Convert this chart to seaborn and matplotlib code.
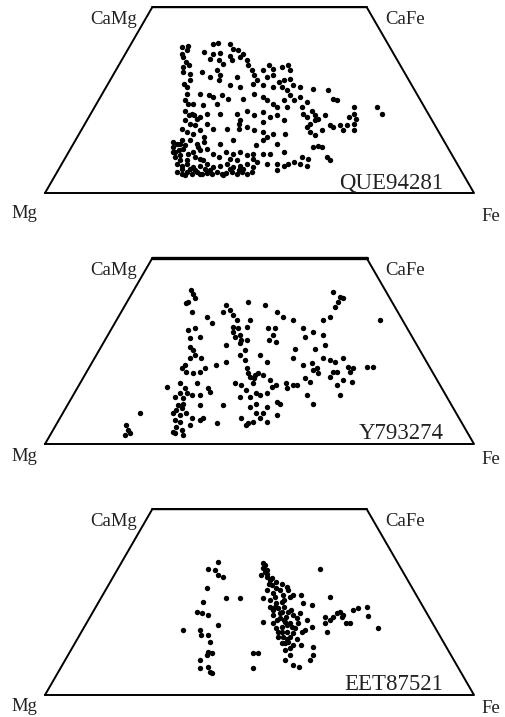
"""Pyroxene quadrilaterals (En-Fs-Di-Hd) for three meteorites."""
import numpy as np
import pandas as pd
import matplotlib
matplotlib.use("Agg")
import matplotlib.pyplot as plt
import seaborn as sns

# corner compositions of the quadrilateral (Fs %, Wo %)
corner_names = ["Mg", "Fe", "CaFe", "CaMg"]
corner_fs = [0, 100, 50, 0]
corner_wo = [0, 0, 50, 50]

samples = ["QUE94281", "Y793274", "EET87521"]

# QUE94281 analyses, Wo % and Fs %
que_wo = [39.3, 39.7, 38.4, 40.2, 40.4, 40.2, 38.8, 38.4, 37.5, 37.5, 37.7, 37.9,
          36.6, 35.3, 34.4, 36.1, 35.7, 37.0, 35.7, 36.6, 35.7, 34.4, 33.0, 34.4,
          33.5, 33.9, 34.4, 33.0, 33.0, 34.8, 32.6, 33.0, 31.7, 32.6, 32.1, 33.9,
          31.2, 30.3, 31.2, 31.7, 30.3, 31.2, 31.7, 29.9, 30.3, 30.8, 29.0, 28.5,
          28.1, 27.6, 25.4, 24.9, 29.4, 29.0, 28.5, 28.5, 27.6, 30.3, 28.5, 28.5, 29.0,
          26.7, 26.3, 25.8, 26.3, 25.4, 25.4, 26.7, 25.8, 24.9, 24.0, 24.9, 26.3,
          24.9, 25.8, 24.5, 23.1, 23.1, 23.1, 24.9, 24.0, 23.6, 24.0, 23.1, 23.1,
          21.3, 21.3, 20.5,
          22.2, 20.9, 21.3, 20.0, 19.6, 18.7, 18.2, 20.5, 21.3, 21.3, 21.3, 22.2,
          20.9, 21.8, 20.5, 20.9, 19.6, 21.3, 20.5, 22.2, 20.9, 20.0, 18.7, 19.6,
          20.9, 18.2, 18.2, 18.7, 20.0, 18.2, 19.6, 18.7, 19.1, 18.7,
          17.3, 16.4, 16.0, 16.9, 15.1, 17.3, 17.3, 17.3, 17.8, 16.9, 16.4, 15.1,
          16.0, 16.0, 17.8, 16.4, 15.5, 16.9, 17.8, 16.9, 16.9, 14.2, 13.3, 13.7,
          13.3, 14.2, 13.7, 14.2, 12.8, 14.2, 13.3, 12.4, 12.6, 12.4,
          12.4, 11.5, 11.9, 10.6, 11.0, 11.5, 11.9, 10.6, 13.3, 11.0, 10.6, 11.0,
          10.1, 10.6, 10.6, 10.6, 11.0, 9.7, 9.2, 9.7, 8.8, 9.7, 10.1, 8.8, 9.2,
          9.7, 9.2, 8.8, 9.2,
          7.9, 7.4, 7.9, 7.0, 7.4, 7.9, 7.0, 7.4, 7.9, 7.0, 7.4, 7.9, 7.0,
          5.7, 5.2, 5.7, 5.2, 5.7, 5.0, 5.4, 5.2, 5.7, 5.2, 5.4, 5.7, 5.2, 5.7,
          5.2, 5.7, 7.9, 7.4, 7.9, 8.3, 7.9, 7.4, 6.1, 6.5, 6.5, 6.5, 6.5, 6.5,
          7.9, 8.3,
          11.0, 12.8, 9.7, 8.8, 13.3, 5.2, 20.9, 24.0, 29.4, 26.7, 37.5,
          4.8, 6.1, 6.1, 4.8, 6.3, 8.8, 11.0, 12.4]
que_fs = [12.4, 13.5, 13.8, 19.1, 20.2, 23.0, 24.5, 25.9, 27.3, 20.5, 22.0, 18.0,
          13.8, 15.3, 16.4, 20.5, 22.6, 24.6, 25.7, 27.2, 29.2, 30.2, 34.4, 34.9,
          36.5, 38.3, 39.5, 40.6, 31.7, 24.2, 20.2, 23.5, 25.0, 15.8, 17.8, 15.3,
          22.9, 25.3, 29.1, 32.8, 34.2, 36.1, 37.4, 39.5, 40.5, 41.7, 43.4, 45.2,
          48.5, 52.2, 54.5, 55.6, 33.9, 36.4, 39.0, 41.0, 42.5, 18.7, 18.8, 31.3, 28.6,
          22.8, 25.0, 26.3, 28.1, 30.0, 33.5, 35.3, 38.0, 39.3, 41.2, 43.2, 44.0,
          45.5, 46.5, 48.8, 48.3, 44.8, 42.5, 20.2, 22.6, 25.1, 28.0, 60.4, 65.8,
          67.9, 61.3, 60.5,
          21.5, 23.0, 23.6, 25.4, 22.8, 24.5, 25.9, 25.9, 27.1, 30.2, 34.1, 35.9,
          38.2, 40.0, 42.2, 43.6, 45.8, 49.6, 50.8, 51.1, 52.5, 53.7, 52.5, 53.1,
          54.9, 59.7, 61.2, 62.6, 62.6, 57.3, 35.7, 35.8, 41.3, 28.4,
          23.3, 24.8, 26.6, 27.7, 29.4, 30.6, 33.7, 36.5, 38.1, 40.2, 42.7, 44.2,
          45.2, 47.9, 52.1, 53.6, 55.2, 56.1, 58.3, 61.1, 63.5, 26.7, 28.8, 23.1,
          24.1, 24.8, 30.1, 36.8, 42.9, 43.8, 47.4, 56.3, 57.4, 58.3,
          23.7, 25.4, 26.3, 28.1, 29.1, 30.4, 31.8, 33.9, 34.2, 36.8, 38.6, 40.0,
          42.0, 43.3, 45.6, 47.1, 50.1, 55.0, 56.8, 60.9, 62.0, 25.5, 26.5, 28.6,
          31.5, 35.6, 38.5, 40.3, 44.0,
          26.8, 28.2, 29.1, 31.1, 32.4, 33.8, 35.7, 37.1, 38.4, 40.4, 41.8, 43.1, 45.1,
          27.9, 29.3, 30.2, 31.6, 32.6, 34.0, 35.0, 36.3, 37.2, 38.6, 39.6, 40.7,
          42.1, 43.0, 44.4, 45.4, 50.1, 51.9, 52.8, 53.8, 55.5, 57.3, 51.0, 28.7,
          30.6, 34.1, 39.9, 43.0, 47.8, 45.2,
          24.8, 26.2, 30.2, 32.5, 24.8, 33.5, 24.2, 21.4, 17.7, 19.7, 13.2,
          30.2, 32.0, 35.5, 39.2, 42.0, 27.1, 24.4, 29.5]

# Y793274 analyses
y79_wo = [41.4, 40.5, 38.3, 39.2, 37.9, 35.6, 34.3, 32.5, 37.4, 36.1, 34.7, 35.6,
          38.3, 37.4, 35.6, 34.3, 33.4, 33.4, 34.3, 41.0, 39.6, 39.2, 38.3, 37.0, 33.4,
          30.7, 31.1, 28.9, 31.6, 31.1, 31.6, 33.4, 29.3, 28.9, 31.1, 31.1, 29.3,
          31.1, 30.2, 28.9, 29.3, 28.4,
          26.2, 25.3, 26.6, 27.1, 25.3, 28.0, 28.0, 27.5, 25.7, 25.7, 26.6, 23.1,
          23.9, 23.1, 21.3, 22.2, 23.9, 23.9, 22.2, 23.1, 21.3, 21.7, 20.4, 23.1,
          22.6, 22.2, 23.1, 20.8, 20.4, 20.8, 20.8, 19.5, 19.5,
          21.3, 20.4, 19.5, 19.0, 19.5, 20.4, 20.4, 18.1, 18.6, 19.0, 18.6, 17.2,
          16.3, 15.9, 16.3, 15.4, 15.9, 16.3, 15.9, 15.9, 17.7, 16.8, 18.1, 19.5,
          17.2, 16.8, 15.9, 19.9, 19.0, 15.4, 16.3, 15.0, 16.3, 15.0, 14.5, 13.6,
          12.7, 13.6, 12.3, 13.6, 13.2, 13.2, 14.1, 12.7, 12.7, 13.2, 13.6, 10.9,
          15.0, 13.2, 10.9, 13.2, 10.5, 10.9, 10.5, 10.5, 10.0, 10.9, 10.0, 11.4,
          9.1, 9.6, 8.3, 7.8, 8.3, 6.9, 6.5, 5.6, 6.9, 5.6, 6.0, 6.9, 6.0, 7.8,
          6.5, 6.0, 4.7, 3.8, 2.9, 2.4, 3.3, 5.1, 6.9, 5.1, 8.3, 8.3,
          8.4, 5.1, 3.8, 2.4, 2.9,
          33.4, 28.0, 30.2, 22.6, 19.0, 17.7]
y79_fs = [13.3, 14.3, 14.2, 15.4, 14.0, 16.4, 20.5, 22.6, 23.6, 25.0, 26.5, 23.8,
          28.2, 32.6, 36.2, 38.4, 41.2, 48.2, 49.2, 46.7, 49.0, 49.9, 49.2, 49.1, 61.4,
          18.0, 19.4, 21.6, 28.1, 29.5, 31.2, 31.1, 30.8, 29.8, 36.5, 38.0, 38.5,
          44.6, 47.4, 46.1, 50.2, 19.6,
          20.7, 21.9, 29.0, 31.9, 33.9, 33.0, 38.1, 40.2, 45.4, 50.0, 52.0, 22.2,
          23.0, 24.9, 29.3, 31.2, 33.5, 38.1, 40.6, 46.3, 49.5, 51.3, 53.1, 53.3,
          55.1, 56.5, 57.9, 60.3, 61.7, 64.6, 66.1, 58.2, 61.3,
          21.9, 21.7, 23.2, 25.1, 26.3, 27.1, 36.8, 38.7, 39.7, 40.2, 41.6, 43.8,
          40.4, 37.8, 36.1, 45.1, 46.0, 48.1, 49.9, 50.7, 51.7, 53.4, 57.3, 57.4,
          60.9, 63.1, 60.0, 52.5, 54.2, 20.7, 23.3, 25.1, 27.2, 30.6, 39.7, 42.5,
          23.9, 24.7, 26.0, 26.2, 27.6, 29.5, 31.4, 39.1, 41.4, 43.5, 44.9, 49.3,
          48.8, 54.4, 57.0, 62.2, 25.8, 26.7, 30.8, 36.3, 42.8, 43.8, 46.7, 48.3,
          26.1, 27.1, 25.7, 27.6, 28.8, 30.7, 32.8, 37.2, 42.3, 44.6, 45.6, 46.6, 48.7, 50.1,
          27.0, 28.5, 28.3, 30.0, 28.8, 31.0, 28.2, 31.2, 33.4, 44.4, 46.7, 45.1,
          17.9, 16.4, 17.5, 17.4, 18.3,
          28.0, 31.8, 28.8, 35.3, 37.9, 39.8]

# EET87521 analyses
eet_wo = [35.9, 33.8, 33.6, 32.3, 31.7, 28.7, 26.0, 26.0, 25.1, 22.4, 22.0, 21.5,
          17.5, 17.5, 16.1, 16.1, 18.8, 14.4, 11.7, 11.2, 10.8, 9.4, 7.2, 7.6, 5.8, 6.3,
          35.0, 34.1, 33.2, 32.3, 31.8, 30.9, 30.5, 30.0, 29.2, 28.3, 27.4, 26.9,
          28.3, 26.0, 25.6, 24.7, 23.8, 22.9, 22.9, 22.0, 21.1, 21.5, 22.0, 24.7,
          24.2, 20.2, 20.2, 19.3, 19.3, 20.2, 18.4, 19.7, 18.4, 17.0, 16.6, 17.0,
          17.5, 15.7, 14.4, 13.5, 13.5, 13.0, 12.1, 10.8, 9.4, 8.1, 7.6, 9.4, 10.8,
          11.2, 11.4, 7.2, 26.9, 26.9, 29.6, 28.7, 25.1, 26.5, 19.3, 17.0, 13.9,
          33.6, 30.0, 28.3, 23.8, 22.4, 18.8, 15.7, 15.7, 15.2, 17.9,
          35.4, 32.7, 31.4, 26.5, 23.3, 21.5, 20.6, 19.7, 17.9, 17.0, 15.2, 13.9,
          12.6, 18.4, 20.6, 23.8, 22.4, 25.6,
          33.8, 26.3, 21.1, 20.2, 21.1, 22.0, 22.4, 21.1, 19.3, 19.3, 22.9, 23.5,
          23.8, 21.3, 19.3, 17.0, 17.9, 21.5]
eet_fs = [22.4, 21.2, 22.8, 24.2, 25.7, 23.3, 29.3, 32.5, 24.3, 24.2, 25.5, 27.3,
          23.4, 27.3, 28.4, 30.0, 31.0, 31.3, 32.2, 33.3, 32.3, 31.4, 32.5, 34.3, 36.0, 35.3,
          33.8, 33.8, 34.7, 34.3, 35.8, 36.9, 38.7, 40.2, 41.7, 37.5, 39.5, 42.1,
          42.5, 37.9, 39.6, 41.6, 43.7, 46.0, 41.7, 43.8, 45.7, 47.1, 48.4, 47.8,
          50.1, 43.9, 45.5, 47.4, 49.4, 50.9, 53.0, 41.0, 46.0, 47.8, 49.6, 51.3,
          51.8, 47.7, 49.5, 51.1, 53.0, 56.0, 49.8, 51.7, 51.2, 53.8, 55.3, 57.1, 57.1,
          43.0, 44.0, 45.0, 44.4, 46.3, 38.0, 39.6, 42.6, 43.8, 43.5, 45.9, 48.9,
          34.9, 37.1, 40.6, 41.7, 44.0, 46.9, 46.5, 49.2, 51.1, 49.3,
          33.2, 35.3, 37.1, 40.4, 42.7, 42.4, 44.5, 46.1, 45.0, 46.7, 48.7, 48.3,
          50.8, 48.3, 48.4, 40.5, 45.5, 42.8,
          47.2, 53.2, 54.7, 56.3, 56.6, 57.0, 57.6, 58.6, 60.6, 61.4, 60.4, 61.2,
          63.1, 64.7, 55.6, 57.2, 68.7, 58.7]

panel_wo = [que_wo, y79_wo, eet_wo]
panel_fs = [que_fs, y79_fs, eet_fs]

H = np.sqrt(3) / 2


def to_xy(fs, wo):
    fs = np.asarray(fs, float) / 100
    wo = np.asarray(wo, float) / 100
    return fs + wo / 2, wo * H


sns.set_theme(style="white")
plt.rcParams["font.family"] = ["Liberation Serif", "DejaVu Serif"]

fig = plt.figure(figsize=(5.05, 7.17), dpi=100)
W, HT = 505, 717
bases = [193, 444, 695]          # pixel row of each Mg-Fe base line
name_drop = [-15, -9, -8]        # Mg / Fe label offset below base (pt)
top_lw = [1.4, 2.4, 1.4]

for i, name in enumerate(samples):
    ax = fig.add_axes([45 / W, (HT - bases[i]) / HT, 429 / W, 429 * H / 2 / HT])
    ax.set_xlim(0, 1)
    ax.set_ylim(0, H / 2)
    ax.axis("off")

    cx, cy = to_xy(corner_fs, corner_wo)
    outline = pd.DataFrame({"x": list(cx) + [cx[0]], "y": list(cy) + [cy[0]]})
    sns.lineplot(data=outline, x="x", y="y", sort=False, estimator=None,
                 color="black", lw=1.4, ax=ax, clip_on=False)
    ax.plot(cx[2:4], cy[2:4], color="black", lw=top_lw[i], clip_on=False)

    px, py = to_xy(panel_fs[i], panel_wo[i])
    df = pd.DataFrame({"x": px, "y": py})
    sns.scatterplot(data=df, x="x", y="y", s=15, color="black", linewidth=0,
                    ax=ax, clip_on=False)

    txt = dict(fontsize=13.5, color="#222222", textcoords="offset points",
               annotation_clip=False)
    ax.annotate("CaMg", (cx[3], cy[3]), xytext=(-11, -9), ha="right", va="center", **txt)
    ax.annotate("CaFe", (cx[2], cy[2]), xytext=(13.5, -9), ha="left", va="center", **txt)
    ax.annotate("Mg", (cx[0], cy[0]), xytext=(-5.5, name_drop[i]), ha="right", va="center", **txt)
    ax.annotate("Fe", (cx[1], cy[1]), xytext=(5.5, name_drop[i] - 2), ha="left", va="center", **txt)
    ax.annotate(name, (cx[1], cy[1]), xytext=(-22, 7.5), ha="right", va="center",
                fontsize=16.5, color="#222222", textcoords="offset points")
    ax.set_xlabel("")
    ax.set_ylabel("")

fig.savefig("out.png", dpi=100)
